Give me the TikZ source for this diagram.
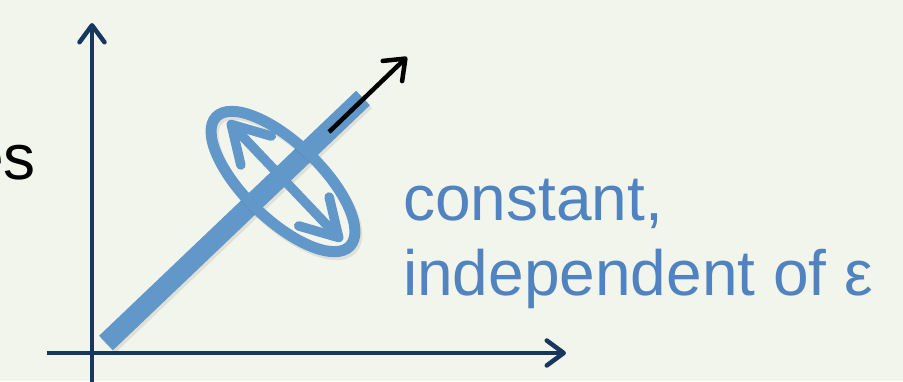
\documentclass[tikz,border=0pt]{standalone}
\usepackage{fontspec}
\setmainfont{Liberation Sans}
\usetikzlibrary{arrows.meta,shapes.geometric,calc}
\definecolor{bg}{HTML}{F2F5EB}
\definecolor{navy}{HTML}{17375E}
\definecolor{barblue}{HTML}{6197C9}
\definecolor{txtblue}{HTML}{5083BF}
\tikzset{
  axis/.style={draw=navy, line width=4.5pt, -{Straight Barb[length=17pt,width=25pt,round]}},
  barline/.style={draw=barblue, line width=20pt},
  shadowline/.style={draw=black, line width=20pt, opacity=0.08},
  ringstyle/.style={ellipse, draw=barblue, line width=11pt, minimum width=186pt, minimum height=76pt, inner sep=0pt, outer sep=0pt, rotate=-44},
  dblarrow/.style={draw=barblue, line width=9.5pt, line cap=round,
    {Straight Barb[length=36pt,width=42pt,round]}-{Straight Barb[length=36pt,width=42pt,round]}},
  blackarrow/.style={draw=black, line width=4.5pt, -{Straight Barb[length=18pt,width=28pt,round]}},
  bigtext/.style={inner sep=0pt, font=\fontsize{64}{75}\selectfont}
}
\begin{document}
\begin{tikzpicture}[x=1pt,y=-1pt]
\useasboundingbox (0,0) rectangle (903,381);
\fill[bg] (0,0) rectangle (903,381);
% axes
\coordinate (yb) at (92,384);
\coordinate (yt) at (92,23);
\coordinate (xl) at (47,353);
\coordinate (xr) at (566,353);
\draw[axis] (yb) -- (yt);
\draw[axis] (xl) -- (xr);
% bar
\coordinate (b1) at (106,343);
\coordinate (b2) at (363,98);
\draw[shadowline] ($(b1)+(2,3)$) -- ($(b2)+(2,3)$);
\draw[barline] (b1) -- (b2);
% ring
\node[ringstyle, draw=black, opacity=0.08] (ringshadow) at (285,184.5) {};
\node[ringstyle] (ring) at (283,181.5) {};
% double arrow
\coordinate (t1) at (228,121);
\coordinate (t2) at (342,241);
\draw[dblarrow] (t1) -- (t2);
% black arrow
\coordinate (a1) at (329,132);
\coordinate (a2) at (407,57);
\draw[blackarrow] (a1) -- (a2);
% texts
\node[bigtext, anchor=base east] (es) at (36,179) {es};
\node[bigtext, text=txtblue, anchor=base west] (l1) at (403,220) {constant,};
\node[bigtext, text=txtblue, anchor=base west] (l2) at (403,295) {independent of ε};
\end{tikzpicture}
\end{document}
